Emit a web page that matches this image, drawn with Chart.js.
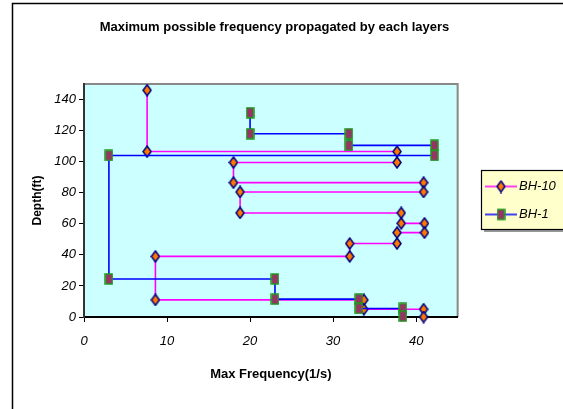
<!DOCTYPE html>
<html><head><meta charset="utf-8">
<script src="https://cdn.jsdelivr.net/npm/chart.js@4.4.0/dist/chart.umd.min.js"></script>
<style>html,body{margin:0;padding:0;background:#fff;}#wrap{width:563px;height:409px;position:relative;}</style>
</head><body><div id="wrap"><canvas id="c" width="563" height="409"></canvas></div>
<script>
// ---- data ----
const seriesNames = ['BH-10', 'BH-1'];
const bh10Freq  = [7.6, 7.6, 37.7, 37.7, 18.0, 18.0, 40.9, 40.9, 18.8, 18.8, 38.2, 38.2, 41.0, 41.0, 37.7, 37.7, 32.0, 32.0, 8.6, 8.6, 33.7, 33.7, 40.9, 40.9];
const bh10Depth = [146, 106.5, 106.5, 99.5, 99.5, 86.5, 86.5, 80.5, 80.5, 67, 67, 60.3, 60.3, 54.3, 54.3, 47.3, 47.3, 39, 39, 11, 11, 5, 5, 0];
const bh1Freq   = [20.0, 20.0, 31.9, 31.9, 42.2, 42.2, 3.0, 3.0, 23.0, 23.0, 33.1, 33.1, 38.4, 38.4];
const bh1Depth  = [131.5, 118, 118, 110.5, 110.5, 104, 104, 24.5, 24.5, 11.5, 11.5, 5.5, 5.5, 0.5];
const xTickValues = [0, 10, 20, 30, 40];
const yTickValues = [0, 20, 40, 60, 80, 100, 120, 140];
const chartTitle = 'Maximum possible frequency propagated by each layers';
const xTitle = 'Max Frequency(1/s)';
const yTitle = 'Depth(ft)';

const FONT = "'Liberation Sans', Arial, sans-serif";
const MAG = '#FF00FF', BLUE = '#0000FF';

function markerDiamond() {
  const c = document.createElement('canvas'); c.width = 10; c.height = 13;
  const g = c.getContext('2d');
  g.beginPath(); g.moveTo(5, 1); g.lineTo(9, 6.5); g.lineTo(5, 12); g.lineTo(1, 6.5); g.closePath();
  g.fillStyle = '#FF7700'; g.fill(); g.lineWidth = 1.5; g.strokeStyle = '#000080'; g.stroke();
  return c;
}
function markerSquare() {
  const c = document.createElement('canvas'); c.width = 9; c.height = 12;
  const g = c.getContext('2d');
  g.fillStyle = '#993366'; g.fillRect(1, 1, 7, 10);
  g.lineWidth = 1.5; g.strokeStyle = '#1E9A1E'; g.strokeRect(1, 1, 7, 10);
  return c;
}
function legendSample(color, mk) {
  const c = document.createElement('canvas'); c.width = 32; c.height = 14;
  const g = c.getContext('2d');
  g.strokeStyle = color; g.lineWidth = 1.5; g.beginPath(); g.moveTo(0, 7); g.lineTo(32, 7); g.stroke();
  g.drawImage(mk, 16 - mk.width / 2, 7 - mk.height / 2);
  return c;
}
const dia = markerDiamond(), sq = markerSquare();
const legImgs = [legendSample(MAG, dia), legendSample(BLUE, sq)];

const toPts = (xs, ys) => xs.map((x, i) => ({x: x, y: ys[i]}));

const decor = {
  id: 'decor',
  afterLayout(chart) {
    const shift = 474.5 - chart.legend.left;
    chart.legend.left += shift; chart.legend.right += shift;
  },
  beforeDraw(chart) {
    const ctx = chart.ctx, a = chart.chartArea;
    ctx.save();
    ctx.fillStyle = '#fff'; ctx.fillRect(0, 0, chart.width, chart.height);
    ctx.strokeStyle = '#000'; ctx.lineWidth = 1.5;
    ctx.strokeRect(12.5, 3.5, 700, 600);
    ctx.fillStyle = '#CCFFFF'; ctx.fillRect(a.left, a.top, a.right - a.left, a.bottom - a.top);
    ctx.strokeStyle = '#888'; ctx.lineWidth = 2;
    ctx.beginPath(); ctx.moveTo(a.left, a.top); ctx.lineTo(a.right, a.top); ctx.lineTo(a.right, a.bottom); ctx.stroke();
    // legend frame
    ctx.fillStyle = '#999'; ctx.fillRect(484, 173, 100, 59);
    ctx.fillStyle = '#FFFFCC'; ctx.fillRect(481.5, 170.5, 100, 59);
    ctx.strokeStyle = '#000'; ctx.lineWidth = 1.2; ctx.strokeRect(481.5, 170.5, 100, 59);
    ctx.restore();
  }
};

new Chart(document.getElementById('c'), {
  type: 'scatter',
  data: {
    datasets: [
      { label: seriesNames[0], data: toPts(bh10Freq, bh10Depth), showLine: true, borderColor: MAG, backgroundColor: '#FF7700',
        borderWidth: 1.6, pointStyle: dia, pointRadius: 5, order: 2, clip: false },
      { label: seriesNames[1], data: toPts(bh1Freq, bh1Depth), showLine: true, borderColor: BLUE, backgroundColor: '#993366',
        borderWidth: 1.6, pointStyle: sq, pointRadius: 5, order: 1, clip: false }
    ]
  },
  options: {
    responsive: false, animation: false,
    layout: { padding: { left: 0, right: 14, top: 0, bottom: 0 } },
    plugins: {
      tooltip: { enabled: false },
      title: { display: true, text: chartTitle, color: '#000', font: { family: FONT, size: 13, weight: 'bold' }, padding: { top: 19.2, bottom: 49.2 } },
      legend: {
        position: 'right', fullSize: false,
        labels: {
          usePointStyle: true, pointStyleWidth: 23, padding: 15, color: '#000',
          font: { family: FONT, size: 13, style: 'italic' },
          generateLabels: (chart) => chart.data.datasets.map((ds, i) => ({
            text: ds.label, datasetIndex: i, pointStyle: legImgs[i], fillStyle: ds.backgroundColor,
            strokeStyle: ds.borderColor, lineWidth: 0, hidden: false, fontColor: '#000'
          }))
        }
      }
    },
    scales: {
      x: {
        type: 'linear', min: 0, max: 45,
        afterFit: (s) => { s.height = 92; },
        afterBuildTicks: (s) => { s.ticks = xTickValues.map(v => ({value: v})); },
        ticks: { stepSize: 10, includeBounds: false, color: '#000', padding: 12, font: { family: FONT, size: 13, style: 'italic' } },
        grid: { drawOnChartArea: false, drawTicks: true, tickLength: 5, color: '#000', lineWidth: 1 },
        border: { display: true, color: '#000', width: 2 },
        title: { display: true, text: xTitle, color: '#000', font: { family: FONT, size: 13, weight: 'bold' }, padding: { top: 0, bottom: 27.2 } }
      },
      y: {
        type: 'linear', min: 0, max: 150,
        afterFit: (s) => { s.width = 84; },
        afterBuildTicks: (s) => { s.ticks = yTickValues.map(v => ({value: v})); },
        ticks: { stepSize: 20, includeBounds: false, color: '#000', padding: 3, font: { family: FONT, size: 13, style: 'italic' } },
        grid: { drawOnChartArea: false, drawTicks: true, tickLength: 5, color: '#000', lineWidth: 1 },
        border: { display: true, color: '#333', width: 2 },
        title: { display: true, text: yTitle, color: '#000', font: { family: FONT, size: 12, weight: 'bold' }, padding: { top: 30, bottom: 0 } }
      }
    }
  },
  plugins: [decor]
});
</script></body></html>
